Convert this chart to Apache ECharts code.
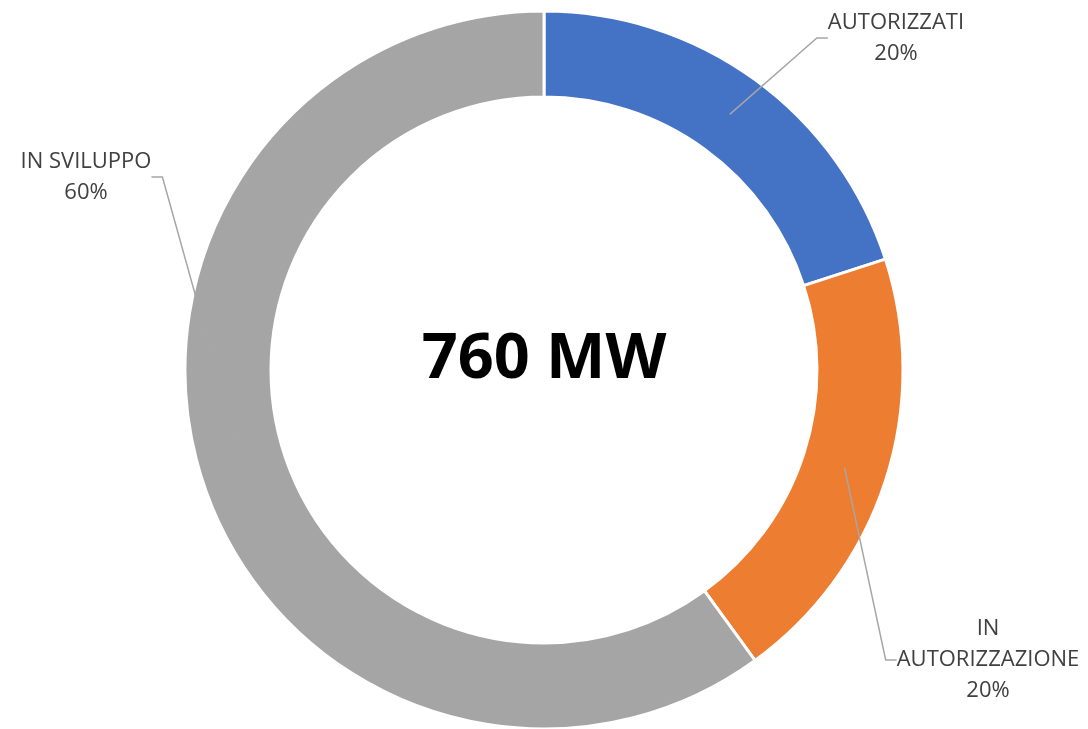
<!DOCTYPE html>
<html>
<head>
<meta charset="utf-8">
<script src="https://cdn.jsdelivr.net/npm/echarts@6/dist/echarts.min.js"></script>
<style>
  html, body { margin: 0; padding: 0; background: #fff; }
  #chart { width: 1088px; height: 729px; }
</style>
</head>
<body>
<div id="chart"></div>
<script>
// dati del grafico (MW per stato)
const categories = ['AUTORIZZATI', 'IN\nAUTORIZZAZIONE', 'IN SVILUPPO']
const values = [152, 152, 456]
const colors = ['#4472C4', '#ED7D31', '#A5A5A5']
const totalLabel = '760 MW'

// posizione delle etichette (centro del blocco di testo) e lato di aggancio della linea
const labelPos = [
  { x: 896, y: 38, side: 'left' },
  { x: 988, y: 660, side: 'left' },
  { x: 86, y: 177, side: 'right' }
]
const guideLen = 11

const chart = echarts.init(document.getElementById('chart'))

const pieData = categories.map((name, i) => ({
  name,
  value: values[i],
  itemStyle: { color: colors[i] }
}))

const option = {
  animation: false,
  graphic: [
    {
      type: 'text',
      x: 544,
      y: 360,
      style: {
        text: totalLabel,
        align: 'center',
        verticalAlign: 'middle',
        fontFamily: 'Open Sans',
        fontWeight: 'bold',
        fontSize: 63,
        fill: '#000'
      }
    }
  ],
  series: [
    {
      // anello visibile
      type: 'pie',
      center: [544, 370],
      radius: [273, 359],
      startAngle: 90,
      clockwise: true,
      silent: true,
      z: 2,
      itemStyle: { borderColor: '#fff', borderWidth: 3 },
      label: { show: false },
      labelLine: { show: false },
      data: pieData
    },
    {
      // serie trasparente: linee guida dal centro dell'anello
      type: 'pie',
      center: [544, 370],
      radius: [0, 316],
      startAngle: 90,
      clockwise: true,
      silent: true,
      z: 3,
      avoidLabelOverlap: false,
      itemStyle: { color: 'transparent' },
      label: {
        show: true,
        position: 'outside',
        formatter: p => p.name + '\n' + p.percent + '%',
        fontFamily: 'Open Sans',
        fontSize: 22,
        lineHeight: 31,
        color: '#404040',
        align: 'center'
      },
      labelLine: {
        show: true,
        length: 20,
        length2: guideLen,
        lineStyle: { color: '#A6A6A6', width: 1.5 }
      },
      labelLayout: params => {
        const pos = labelPos[params.dataIndex]
        const w = params.labelRect.width
        const edgeX = pos.side === 'left' ? pos.x - w / 2 : pos.x + w / 2
        const bendX = pos.side === 'left' ? edgeX - guideLen : edgeX + guideLen
        const start = params.labelLinePoints ? params.labelLinePoints[0] : null
        const out = {
          x: pos.x,
          y: pos.y,
          align: 'center',
          verticalAlign: 'middle'
        }
        if (start) {
          out.labelLinePoints = [start, [bendX, pos.y], [edgeX, pos.y]]
        }
        return out
      },
      data: categories.map((name, i) => ({ name, value: values[i] }))
    }
  ]
}

chart.setOption(option)
</script>
</body>
</html>
